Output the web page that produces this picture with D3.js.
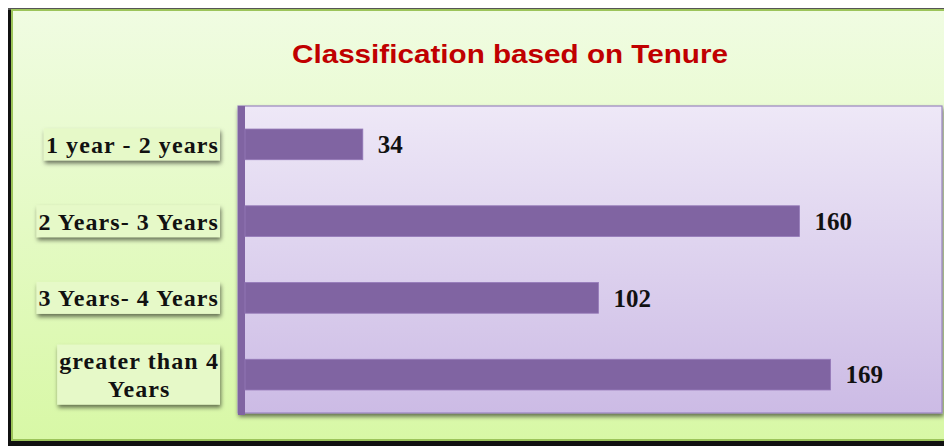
<!DOCTYPE html>
<html>
<head>
<meta charset="utf-8">
<script src="https://d3js.org/d3.v7.min.js"></script>
<style>
  body { margin: 0; background: #fff; }
  svg { display: block; }
</style>
</head>
<body>
<svg width="944" height="446"></svg>
<script>
var categories = ["1 year - 2 years", "2 Years- 3 Years", "3 Years- 4 Years", "greater than 4 Years"];
var labelLines = [["1 year - 2 years"], ["2 Years- 3 Years"], ["3 Years- 4 Years"], ["greater than 4", "Years"]];
var values = [34, 160, 102, 169];
var title = "Classification based on Tenure";

var svg = d3.select("svg"),
    width = +svg.attr("width"),
    height = +svg.attr("height");

var defs = svg.append("defs");

var bgGrad = defs.append("linearGradient").attr("id", "bg").attr("x1", 0).attr("y1", 0).attr("x2", 0).attr("y2", 1);
bgGrad.append("stop").attr("offset", "0%").attr("stop-color", "#f0fce2");
bgGrad.append("stop").attr("offset", "100%").attr("stop-color", "#d8f8a6");

var plotGrad = defs.append("linearGradient").attr("id", "plotbg").attr("x1", 0).attr("y1", 0).attr("x2", 0).attr("y2", 1);
plotGrad.append("stop").attr("offset", "0%").attr("stop-color", "#eee8f7");
plotGrad.append("stop").attr("offset", "100%").attr("stop-color", "#ccbbe5");

var shadow = defs.append("filter").attr("id", "shadow").attr("x", "-10%").attr("y", "-20%").attr("width", "130%").attr("height", "160%");
shadow.append("feDropShadow").attr("dx", 1).attr("dy", 3).attr("stdDeviation", 2).attr("flood-color", "#000").attr("flood-opacity", 0.55);

// outer frame
svg.append("rect").attr("x", 8).attr("y", 8).attr("width", 960).attr("height", 438).attr("fill", "#111");
svg.append("rect").attr("x", 8).attr("y", 8).attr("width", 960).attr("height", 2).attr("fill", "#555");
svg.append("rect").attr("x", 12).attr("y", 10).attr("width", 960).attr("height", 430)
    .attr("fill", "url(#bg)").attr("stroke", "#9cc45a").attr("stroke-width", 2);

svg.append("text")
    .attr("x", 510).attr("y", 63)
    .attr("text-anchor", "middle")
    .attr("font-family", "'Liberation Sans', Arial, sans-serif")
    .attr("font-weight", "bold")
    .attr("font-size", 26)
    .attr("fill", "#c00000")
    .attr("textLength", 436)
    .attr("lengthAdjust", "spacingAndGlyphs")
    .text(title);

var plot = {left: 245, top: 106, right: 942, bottom: 413};

var x = d3.scaleLinear().domain([0, 200]).range([plot.left, plot.right - 4]);
var y = d3.scaleBand().domain(categories).range([plot.top, plot.bottom]).paddingInner(0.6).paddingOuter(0.3);

// plot area with shadow
svg.append("rect")
    .attr("x", plot.left - 7).attr("y", plot.top)
    .attr("width", plot.right - plot.left + 7).attr("height", plot.bottom - plot.top)
    .attr("fill", "url(#plotbg)")
    .attr("stroke", "#9a86bf").attr("stroke-width", 1.2)
    .attr("filter", "url(#shadow)");

// left 3D wall
svg.append("rect")
    .attr("x", plot.left - 7).attr("y", plot.top)
    .attr("width", 7).attr("height", plot.bottom - plot.top + 2)
    .attr("fill", "#8064a2");

var g = svg.append("g");

g.selectAll(".bar")
  .data(values)
  .enter().append("rect")
    .attr("class", "bar")
    .attr("x", x(0))
    .attr("y", function(d, i) { return y(categories[i]); })
    .attr("width", function(d) { return x(d) - x(0); })
    .attr("height", y.bandwidth())
    .attr("fill", "#8064a2")
    .attr("stroke", "#9479b8").attr("stroke-width", 0.8);

g.selectAll(".val")
  .data(values)
  .enter().append("text")
    .attr("class", "val")
    .attr("x", function(d) { return x(d) + 15; })
    .attr("y", function(d, i) { return y(categories[i]) + y.bandwidth() / 2; })
    .attr("dy", "0.35em")
    .attr("font-family", "'Liberation Serif', 'Times New Roman', serif")
    .attr("font-weight", "bold")
    .attr("font-size", 25)
    .attr("fill", "#111")
    .text(function(d) { return d; });

// category labels in shadowed boxes
var labelRight = 219;
categories.forEach(function(c, i) {
  var lines = labelLines[i];
  var cy = y(c) + y.bandwidth() / 2;
  var lg = svg.append("g");
  var lineH = 28;
  var texts = lines.map(function(t, k) {
    return lg.append("text")
      .attr("x", labelRight)
      .attr("y", cy + (k - (lines.length - 1) / 2) * lineH)
      .attr("dy", "0.35em")
      .attr("text-anchor", lines.length > 1 ? "middle" : "end")
      .attr("font-family", "'Liberation Serif', 'Times New Roman', serif")
      .attr("font-weight", "bold")
      .attr("font-size", 24)
      .attr("letter-spacing", 1.1)
      .attr("fill", "#111")
      .text(t);
  });
  var w = d3.max(texts, function(t) { return t.node().getBBox().width; });
  if (lines.length > 1) {
    texts.forEach(function(t) { t.attr("x", labelRight - w / 2); });
  }
  var h = lines.length * lineH + 4;
  lg.insert("rect", "text")
    .attr("x", labelRight - w - 2).attr("y", cy - h / 2)
    .attr("width", w + 3).attr("height", h)
    .attr("fill", "#e6f9c8")
    .attr("filter", "url(#shadow)");
});
</script>
</body>
</html>
